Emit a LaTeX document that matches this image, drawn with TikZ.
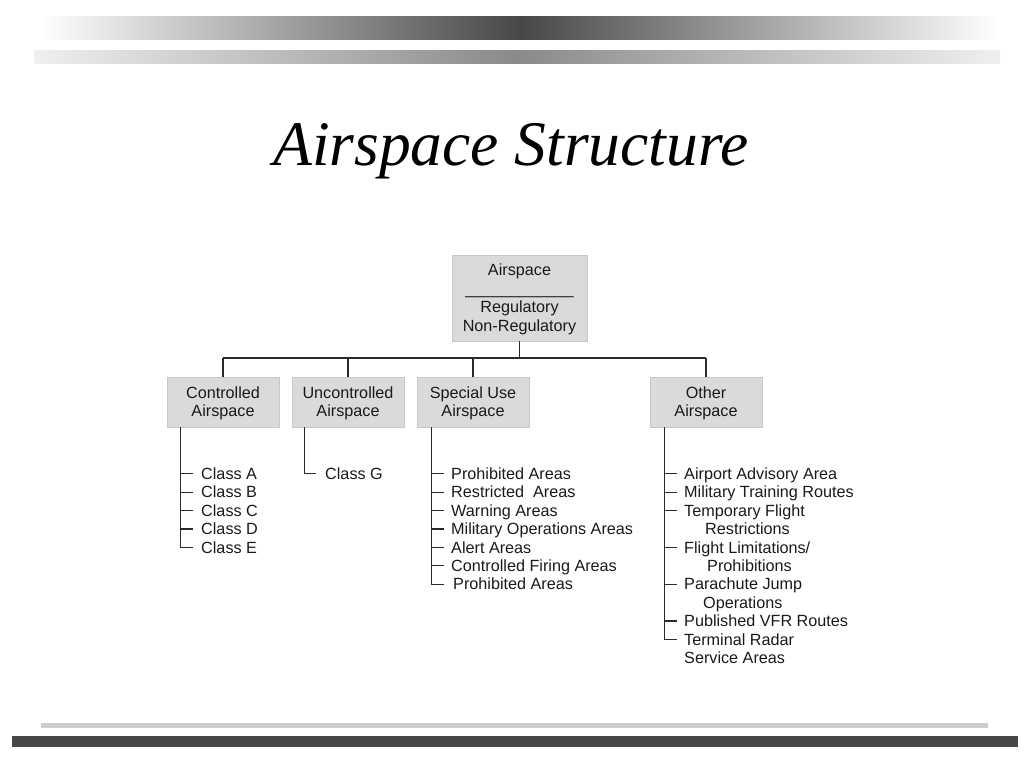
\documentclass[tikz,border=0pt]{standalone}
\usepackage{fontspec}
\setmainfont{Liberation Sans}
\newfontfamily\titlefont{Liberation Serif}
\definecolor{boxfill}{HTML}{DADADA}
\definecolor{boxedge}{HTML}{C8C8C8}
\definecolor{ink}{HTML}{1A1A1A}
\definecolor{linecol}{HTML}{2A2A2A}
\begin{document}
\begin{tikzpicture}[x=1pt,y=-1pt,
  txt/.style={font=\fontsize{16.2}{18.6}\selectfont, text=ink},
  catbox/.style={txt, draw=boxedge, fill=boxfill, line width=0.8pt, inner sep=0pt, minimum width=112pt, minimum height=50pt},
  rootbox/.style={catbox, minimum width=135pt, minimum height=86pt},
  boxtext/.style={txt, align=center, inner sep=0pt},
  item/.style={txt, anchor=base west, inner sep=0pt, text height=11.5pt, text depth=0pt},
  conn/.style={draw=linecol, line width=1.1pt}]
\useasboundingbox (0,0) rectangle (1024,768);
% decorative bars
\shade[left color=white, right color=white, middle color=black!72] (40,17) rectangle (1000,40);
\shade[left color=black!6, right color=black!6, middle color=black!46] (34,51) rectangle (1000,63);
\fill[black!20] (41,723) rectangle (988,728);
\fill[black!72] (12,736) rectangle (1018,747);
% title
\node[font=\titlefont\itshape\fontsize{63.5}{66}\selectfont, anchor=base, inner sep=0pt] (title) at (511,165) {Airspace Structure};
% root
\node[rootbox] (root) at (519.5,298) {};
\node[boxtext] (roott) at (519.5,299.5) {Airspace\\\_\_\_\_\_\_\_\_\_\_\_\_\\Regulatory\\Non-Regulatory};
% categories
\node[catbox] (c1) at (223,402) {};
\node[catbox] (c2) at (348,402) {};
\node[catbox] (c3) at (473,402) {};
\node[catbox] (c4) at (706,402) {};
\node[boxtext] (c1t) at (223,403.5) {Controlled\\Airspace};
\node[boxtext] (c2t) at (348,403.5) {Uncontrolled\\Airspace};
\node[boxtext] (c3t) at (473,403.5) {Special Use\\Airspace};
\node[boxtext] (c4t) at (706,403.5) {Other\\Airspace};
\coordinate (bus) at (0,358);
\draw[conn] (root.south) -- (root.south |- bus);
\draw[conn] (c1.north |- bus) -- (c4.north |- bus);
\foreach \c in {c1,c2,c3,c4}{\draw[conn] (\c.north |- bus) -- (\c.north);}
% list spines
\coordinate (v1) at ([xshift=14]c1.south west);
\coordinate (v2) at ([xshift=13]c2.south west);
\coordinate (v3) at ([xshift=15]c3.south west);
\coordinate (v4) at ([xshift=15]c4.south west);
% Controlled items
\node[item] (a1) at (201,479.5) {Class A};
\node[item] (a2) at (201,497.9) {Class B};
\node[item] (a3) at (201,516.3) {Class C};
\node[item] (a4) at (201,534.7) {Class D};
\node[item] (a5) at (201,553.1) {Class E};
% Uncontrolled
\node[item] (b1) at (325,479.5) {Class G};
% Special use
\node[item] (s1) at (451,479.5) {Prohibited Areas};
\node[item] (s2) at (451,497.9) {Restricted\ \ Areas};
\node[item] (s3) at (451,516.3) {Warning Areas};
\node[item] (s4) at (451,534.7) {Military Operations Areas};
\node[item] (s5) at (451,553.1) {Alert Areas};
\node[item] (s6) at (451,571.5) {Controlled Firing Areas};
\node[item] (s7) at (453,589.9) {Prohibited Areas};
% Other
\node[item] (o1) at (684,479.5) {Airport Advisory Area};
\node[item] (o2) at (684,497.9) {Military Training Routes};
\node[item] (o3) at (684,516.3) {Temporary Flight};
\node[item] (o3b) at (705,534.7) {Restrictions};
\node[item] (o4) at (684,553.1) {Flight Limitations/};
\node[item] (o4b) at (707,571.5) {Prohibitions};
\node[item] (o5) at (684,589.9) {Parachute Jump};
\node[item] (o5b) at (703,608.3) {Operations};
\node[item] (o6) at (684,626.7) {Published VFR Routes};
\node[item] (o7) at (684,645.1) {Terminal Radar};
\node[item] (o7b) at (684,663.5) {Service Areas};
% spines with corner to last item
\draw[conn] (v1) |- ([xshift=-8]a5.west);
\draw[conn] (v2) |- ([xshift=-9]b1.west);
\draw[conn] (v3) |- ([xshift=-9]s7.west);
\draw[conn] (v4) |- ([xshift=-7]o7.west);
% ticks
\foreach \i in {a1,a2,a3,a4}{\draw[conn] (v1 |- \i.west) -- ([xshift=-8]\i.west);}
\foreach \i in {s1,s2,s3,s4,s5,s6}{\draw[conn] (v3 |- \i.west) -- ([xshift=-7]\i.west);}
\foreach \i in {o1,o2,o3,o4,o5,o6}{\draw[conn] (v4 |- \i.west) -- ([xshift=-7]\i.west);}
\end{tikzpicture}
\end{document}
